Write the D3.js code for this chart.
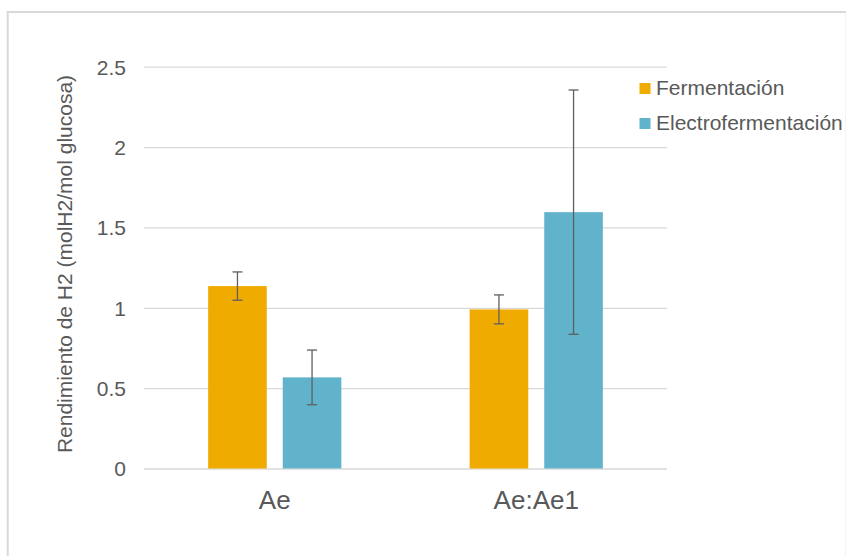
<!DOCTYPE html>
<html>
<head>
<meta charset="utf-8">
<script src="https://cdn.jsdelivr.net/npm/d3@7"></script>
<style>
  body { margin: 0; background: #fff; }
  svg text { font-family: "Liberation Sans", Arial, sans-serif; fill: #595959; }
</style>
</head>
<body>
<div id="chart"></div>
<script>
// Podaci
const categories = ["Ae", "Ae:Ae1"];
const seriesNames = ["Fermentación", "Electrofermentación"];
const fermentacion = [1.135, 0.99];
const electrofermentacion = [0.567, 1.595];
const errFermentacion = [0.088, 0.09];
const errElectro = [0.17, 0.76];
const yTicks = [0, 0.5, 1, 1.5, 2, 2.5];
const colors = ["#f0ab00", "#61b3cc"];

const dim = {
    sirina: 846,
    visina: 556,
    left: 144,
    right: 667,
    top: 66.7,
    bottom: 468.5
};

const svg = d3.select("#chart")
    .append("svg")
    .attr("width", dim.sirina)
    .attr("height", dim.visina);

// okvir
svg.append("rect")
    .attr("x", 7.7)
    .attr("y", 12)
    .attr("width", 839)
    .attr("height", 560)
    .attr("fill", "none")
    .attr("stroke", "#d9d9d9")
    .attr("stroke-width", 2);

const yScale = d3.scaleLinear()
    .domain([0, 2.5])
    .range([dim.bottom, dim.top]);

const xScale = d3.scaleBand()
    .domain(categories)
    .range([dim.left, dim.right])
    .padding(0);

const xInner = d3.scaleBand()
    .domain(seriesNames)
    .range([0, xScale.bandwidth()])
    .paddingInner(0.2145)
    .paddingOuter(0.86);

// y os + mreza
const yAxis = svg.append("g")
    .attr("transform", `translate(${dim.left},0)`)
    .call(d3.axisLeft(yScale)
        .tickValues(yTicks)
        .tickFormat(d3.format("~g"))
        .tickSize(-(dim.right - dim.left))
        .tickPadding(18));
yAxis.select(".domain").remove();
yAxis.selectAll("line").attr("stroke", "#d9d9d9").attr("stroke-width", 1.3);
yAxis.selectAll("text")
    .attr("font-size", 21)
    .attr("fill", "#595959")
    .attr("dy", "0.35em");

// x os
const xAxis = svg.append("g")
    .attr("transform", `translate(0,${dim.bottom})`)
    .call(d3.axisBottom(xScale).tickSize(0));
xAxis.select(".domain").remove();
xAxis.selectAll("text")
    .attr("font-size", 26)
    .attr("fill", "#595959")
    .attr("y", 40.5)
    .attr("dy", 0);

// stupci
const serije = [
    { name: seriesNames[0], values: fermentacion, errs: errFermentacion, color: colors[0] },
    { name: seriesNames[1], values: electrofermentacion, errs: errElectro, color: colors[1] }
];

serije.forEach(s => {
    categories.forEach((c, i) => {
        const x = xScale(c) + xInner(s.name);
        svg.append("rect")
            .attr("x", x)
            .attr("y", yScale(s.values[i]))
            .attr("width", xInner.bandwidth())
            .attr("height", yScale(0) - yScale(s.values[i]))
            .attr("fill", s.color);
    });
});

// error bars
serije.forEach(s => {
    categories.forEach((c, i) => {
        const cx = xScale(c) + xInner(s.name) + xInner.bandwidth() / 2;
        const lo = yScale(s.values[i] - s.errs[i]);
        const hi = yScale(s.values[i] + s.errs[i]);
        svg.append("line")
            .attr("x1", cx).attr("x2", cx)
            .attr("y1", lo).attr("y2", hi)
            .attr("stroke", "#5f5f5f")
            .attr("stroke-width", 1.3);
        [lo, hi].forEach(y => {
            svg.append("line")
                .attr("x1", cx - 5).attr("x2", cx + 5)
                .attr("y1", y).attr("y2", y)
                .attr("stroke", "#5f5f5f")
                .attr("stroke-width", 1.3);
        });
    });
});

// naslov y osi
svg.append("text")
    .attr("transform", `translate(72,264) rotate(-90)`)
    .attr("text-anchor", "middle")
    .attr("font-size", 21)
    .text("Rendimiento de H2 (molH2/mol glucosa)");

// legenda
const legend = svg.append("g");
serije.forEach((s, i) => {
    legend.append("rect")
        .attr("x", 639.5)
        .attr("y", 83 + i * 35)
        .attr("width", 11)
        .attr("height", 11)
        .attr("fill", s.color);
    legend.append("text")
        .attr("x", 656)
        .attr("y", 95 + i * 35)
        .attr("font-size", 21)
        .text(s.name);
});
</script>
</body>
</html>
